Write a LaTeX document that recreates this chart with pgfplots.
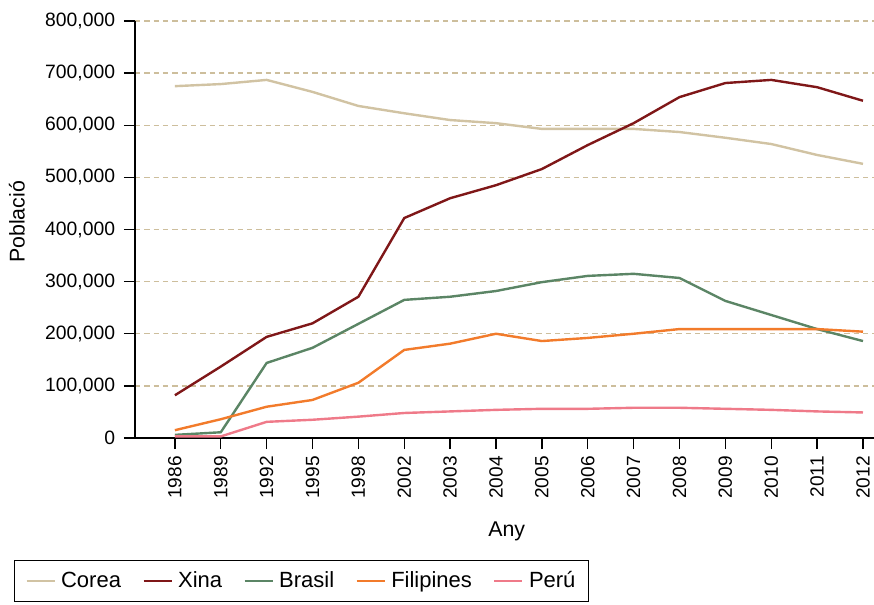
\documentclass[border=0pt]{standalone}
\usepackage{pgfplots}
\pgfplotsset{compat=1.18}
\usepackage{fontspec}
\setmainfont{Liberation Sans}
\definecolor{corea}{HTML}{D1C3A3}
\definecolor{xina}{HTML}{7F1718}
\definecolor{brasil}{HTML}{5B8565}
\definecolor{filip}{HTML}{F27B2B}
\definecolor{peru}{HTML}{EF7A89}
\definecolor{gridc}{HTML}{CDBE9C}
\begin{document}
\fontsize{16}{19}\selectfont
\begin{tikzpicture}
\useasboundingbox (-101.25pt,-124.5pt) rectangle (554.25pt,328.5pt);
\begin{axis}[
  at={(0pt,0pt)}, anchor=south west,
  width=554.25pt, height=312.75pt, scale only axis,
  xmin=-0.87, xmax=15.24, ymin=0, ymax=800000,
  axis lines=left, axis line style={-, line width=1pt},
  xtick={0,...,15},
  xticklabels={1986,1989,1992,1995,1998,2002,2003,2004,2005,2006,2007,2008,2009,2010,2011,2012},
  x tick label style={rotate=90, anchor=east, font=\fontsize{14.3}{16}\selectfont},
  ytick={0,100000,...,800000},
  scaled y ticks=false,
  /pgf/number format/fixed,
  /pgf/number format/1000 sep={,},
  /pgf/number format/assume math mode=true,
  y tick label style={font=\fontsize{14.5}{16}\selectfont, xshift=-1.2pt},
  tick style={black, line width=1pt},
  major tick length=8.25pt,
  tick align=outside,
  ymajorgrids, grid style={gridc, line width=1pt, dash pattern=on 4pt off 3pt},
  xlabel={Any}, ylabel={Població},
  xlabel style={at={(rel axis cs:0.503,-0.223)}, anchor=center},
  ylabel style={at={(rel axis cs:-0.160,0.518)}, anchor=center},
  legend style={at={(rel axis cs:-0.1637,-0.2926)}, anchor=north west, legend columns=5, draw=black, line width=1pt, inner ysep=6pt, inner xsep=8pt, font=\fontsize{16.5}{19}\selectfont, /tikz/every even column/.append style={column sep=14pt}},
  legend image code/.code={\draw[#1, line width=1.8pt] (0pt,0pt) -- (21pt,0pt); \path (23pt,0pt);},
  every axis plot/.append style={line width=1.8pt},
]
\addplot[corea] coordinates {(0,675000)(1,679000)(2,687000)(3,664000)(4,637000)(5,623000)(6,610000)(7,604000)(8,593000)(9,593000)(10,593000)(11,587000)(12,576000)(13,564000)(14,543000)(15,526000)};
\addlegendentry{Corea}
\addplot[xina] coordinates {(0,82000)(1,137000)(2,194000)(3,220000)(4,271000)(5,422000)(6,460000)(7,485000)(8,516000)(9,562000)(10,604000)(11,654000)(12,681000)(13,687000)(14,673000)(15,647000)};
\addlegendentry{Xina}
\addplot[brasil] coordinates {(0,6000)(1,11000)(2,144000)(3,173000)(4,219000)(5,265000)(6,271000)(7,282000)(8,299000)(9,311000)(10,315000)(11,307000)(12,263000)(13,236000)(14,209000)(15,186000)};
\addlegendentry{Brasil}
\addplot[filip] coordinates {(0,15000)(1,36000)(2,60000)(3,73000)(4,106000)(5,169000)(6,181000)(7,200000)(8,186000)(9,192000)(10,200000)(11,209000)(12,209000)(13,209000)(14,209000)(15,204000)};
\addlegendentry{Filipines}
\addplot[peru] coordinates {(0,3000)(1,3000)(2,31000)(3,35000)(4,41000)(5,48000)(6,51000)(7,54000)(8,56000)(9,56000)(10,58000)(11,58000)(12,56000)(13,54000)(14,51000)(15,49000)};
\addlegendentry{Perú}
\end{axis}
\end{tikzpicture}
\end{document}
